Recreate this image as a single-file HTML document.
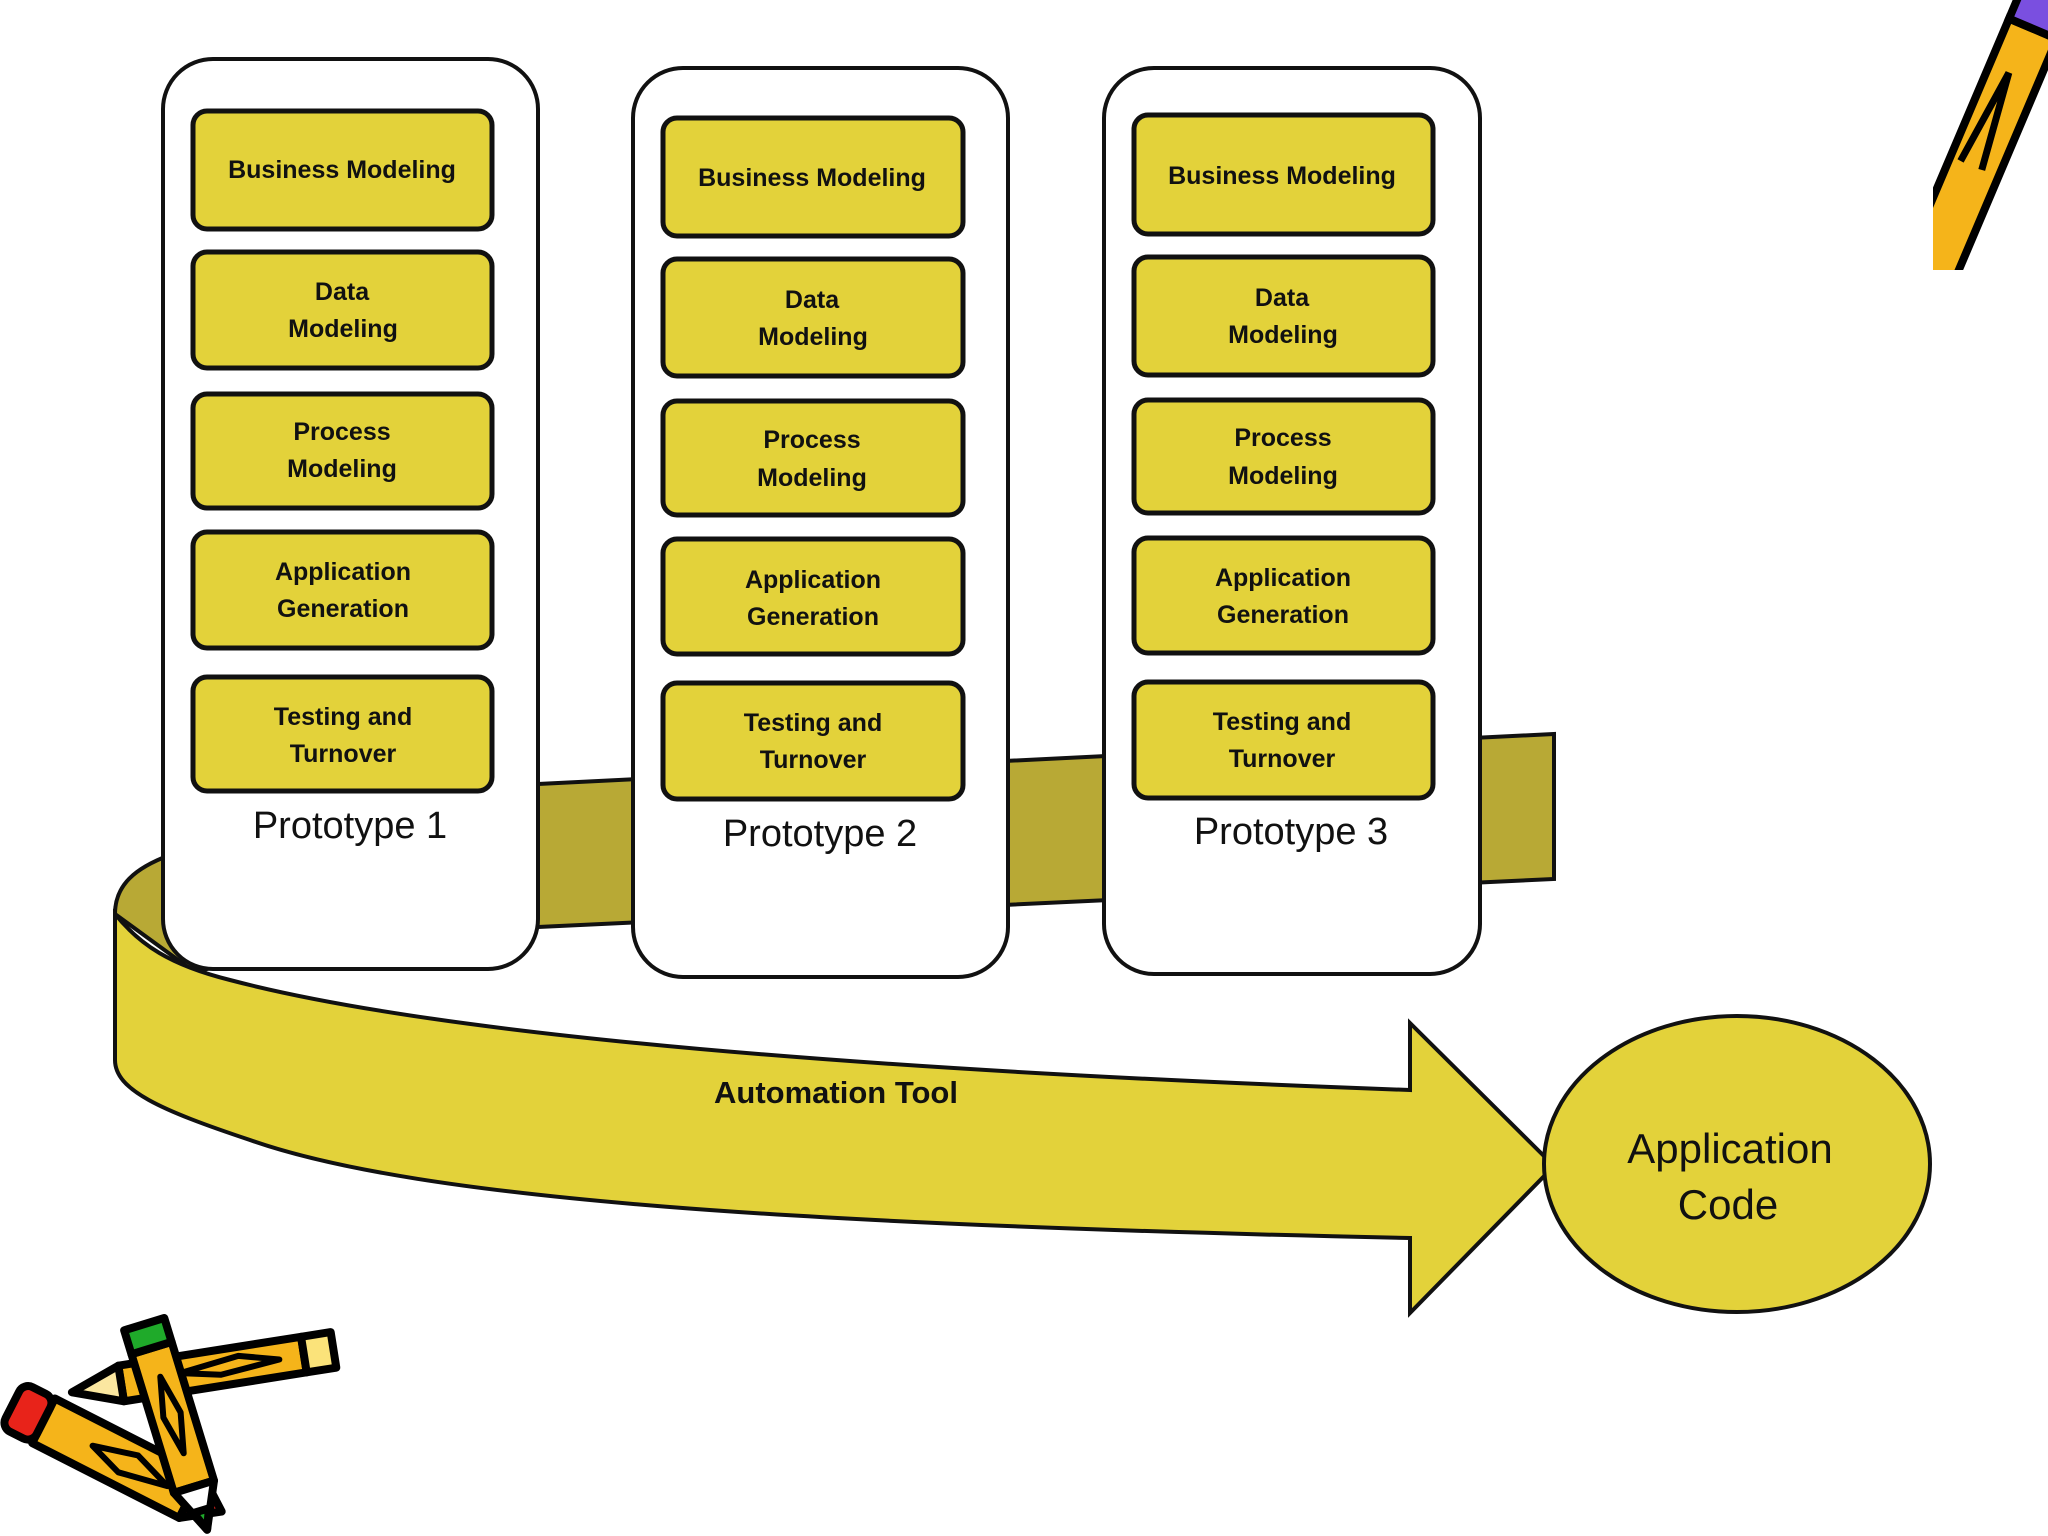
<!DOCTYPE html>
<html><head><meta charset="utf-8"><style>
html,body{margin:0;padding:0;background:#fff;}
svg{display:block}
text{font-family:"Liberation Sans",sans-serif;}
.b{font-weight:bold;font-size:25px;fill:#111;text-anchor:middle}
.p{font-size:38px;fill:#111;text-anchor:middle}
</style></head><body>
<svg width="2048" height="1536" viewBox="0 0 2048 1536" xmlns="http://www.w3.org/2000/svg">
<!-- back band -->
<path d="M538,784 L1554,734 L1554,879 L538,927 C380,935 240,955 196,973 L115,914 C115,885 135,868 170,855 Z" fill="#b8a935" stroke="#111" stroke-width="4"/>
<!-- containers -->
<g fill="#fff" stroke="#111" stroke-width="4">
<rect x="163" y="59" width="375" height="910" rx="50"/>
<rect x="633" y="68" width="375" height="909" rx="50"/>
<rect x="1104" y="68" width="376" height="906" rx="50"/>
</g>
<!-- inner boxes -->
<g fill="#e3d23a" stroke="#111" stroke-width="5">
<rect x="193" y="111" width="299" height="118" rx="14"/>
<rect x="193" y="252" width="299" height="116" rx="14"/>
<rect x="193" y="394" width="299" height="114" rx="14"/>
<rect x="193" y="532" width="299" height="116" rx="14"/>
<rect x="193" y="677" width="299" height="114" rx="14"/>
<rect x="663" y="118" width="300" height="118" rx="14"/>
<rect x="663" y="259" width="300" height="117" rx="14"/>
<rect x="663" y="401" width="300" height="114" rx="14"/>
<rect x="663" y="539" width="300" height="115" rx="14"/>
<rect x="663" y="683" width="300" height="116" rx="14"/>
<rect x="1134" y="115" width="299" height="119" rx="14"/>
<rect x="1134" y="257" width="299" height="118" rx="14"/>
<rect x="1134" y="400" width="299" height="113" rx="14"/>
<rect x="1134" y="538" width="299" height="115" rx="14"/>
<rect x="1134" y="682" width="299" height="116" rx="14"/>
</g>
<g class="b">
<text x="342" y="178" class="b">Business Modeling</text>
<text x="342" y="300" class="b">Data</text><text x="343" y="337" class="b">Modeling</text>
<text x="342" y="440" class="b">Process</text><text x="342" y="477" class="b">Modeling</text>
<text x="343" y="580" class="b">Application</text><text x="343" y="617" class="b">Generation</text>
<text x="343" y="725" class="b">Testing and</text><text x="343" y="762" class="b">Turnover</text>
<text x="812" y="186" class="b">Business Modeling</text>
<text x="812" y="308" class="b">Data</text><text x="813" y="345" class="b">Modeling</text>
<text x="812" y="448" class="b">Process</text><text x="812" y="486" class="b">Modeling</text>
<text x="813" y="588" class="b">Application</text><text x="813" y="625" class="b">Generation</text>
<text x="813" y="731" class="b">Testing and</text><text x="813" y="768" class="b">Turnover</text>
<text x="1282" y="184" class="b">Business Modeling</text>
<text x="1282" y="306" class="b">Data</text><text x="1283" y="343" class="b">Modeling</text>
<text x="1283" y="446" class="b">Process</text><text x="1283" y="484" class="b">Modeling</text>
<text x="1283" y="586" class="b">Application</text><text x="1283" y="623" class="b">Generation</text>
<text x="1282" y="730" class="b">Testing and</text><text x="1282" y="767" class="b">Turnover</text>
</g>
<text x="350" y="838" class="p">Prototype 1</text>
<text x="820" y="846" class="p">Prototype 2</text>
<text x="1291" y="844" class="p">Prototype 3</text>
<!-- front arrow -->
<path d="M115,914 C140,945 170,965 230,980 C420,1030 800,1068 1410,1090 L1410,1023 L1554,1166 L1410,1313 L1410,1238 C800,1225 420,1200 250,1140 C160,1110 115,1090 115,1060 Z" fill="#e3d23a" stroke="#111" stroke-width="4"/>
<text x="836" y="1103" style="font-weight:bold;font-size:31px;fill:#111;text-anchor:middle">Automation  Tool</text>
<!-- ellipse -->
<ellipse cx="1737" cy="1164" rx="193" ry="148" fill="#e3d23a" stroke="#111" stroke-width="4"/>
<text x="1730" y="1163" style="font-size:42px;fill:#111;text-anchor:middle">Application</text>
<text x="1728" y="1219" style="font-size:42px;fill:#111;text-anchor:middle">Code</text>
<!-- top right pencil -->
<defs><clipPath id="c1"><rect x="1933" y="0" width="115" height="270"/></clipPath></defs>
<g clip-path="url(#c1)">
<g transform="translate(1990,130) rotate(-67)">
<rect x="-160" y="-26" width="270" height="52" fill="#f5b41a" stroke="#000" stroke-width="8"/>
<rect x="110" y="-26" width="40" height="52" fill="#7a4fe0" stroke="#000" stroke-width="8"/>
<path d="M-40,-15 L60,-5 L-40,8" fill="none" stroke="#000" stroke-width="7"/>
<polygon points="-160,-26 -230,0 -160,26" fill="#fff" stroke="#000" stroke-width="7"/>
</g>
</g>
<!-- bottom-left pencils -->
<g stroke="#000" stroke-width="8" stroke-linejoin="round">
<g transform="translate(200,1370) rotate(-9)">
<rect x="-80" y="-17" width="185" height="36" fill="#f5b41a"/>
<rect x="105" y="-17" width="30" height="36" fill="#fbe37a"/>
<polygon points="-80,-17 -130,2 -80,19" fill="#fbe7a0"/>
<path d="M-20,0 L40,-8 L80,2 L20,8 Z" fill="none" stroke-width="6"/>
</g>
<g transform="translate(97,1448) rotate(27)">
<rect x="-60" y="-25" width="165" height="50" fill="#f5b41a"/>
<rect x="-95" y="-25" width="35" height="50" fill="#e8231a" rx="10"/>
<polygon points="105,-25 140,0 105,25" fill="#e8231a"/>
<path d="M-5,0 L40,-12 L80,2 L30,12 Z" fill="none" stroke-width="6"/>
</g>
<g transform="translate(172,1415) rotate(73)">
<rect x="-70" y="-21" width="145" height="42" fill="#f5b41a"/>
<rect x="-95" y="-21" width="25" height="42" fill="#1faa2a"/>
<polygon points="75,-21 120,0 75,21" fill="#fff"/>
<polygon points="100,-8 120,0 100,8" fill="#1faa2a"/>
<path d="M-40,0 L0,-9 L40,0 L0,9 Z" fill="none" stroke-width="6"/>
</g>
</g>
</svg>
</body></html>
